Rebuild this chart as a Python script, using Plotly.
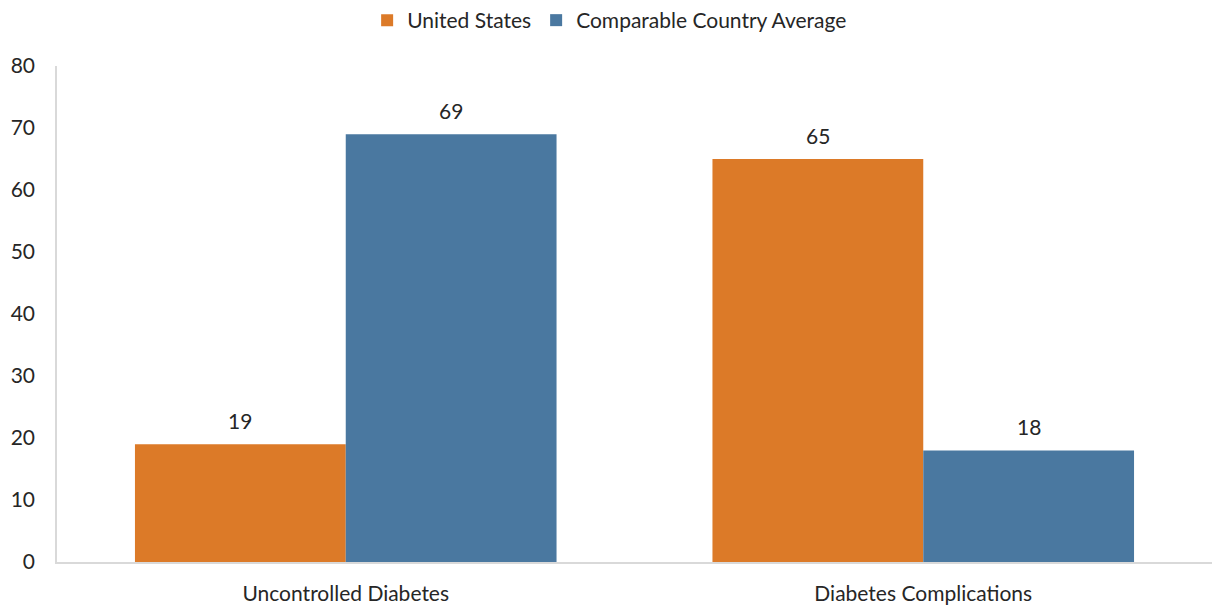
import plotly.graph_objects as go

categories = ["Uncontrolled Diabetes", "Diabetes Complications"]
us_values = [19, 65]
comp_values = [69, 18]
series_names = ["United States", "Comparable Country Average"]
y_ticks = [0, 10, 20, 30, 40, 50, 60, 70, 80]

ORANGE = "rgb(220,122,40)"
BLUE = "rgb(74,120,160)"
TEXT = "#262626"
FONT = "Lato"
FS = 21

fig = go.Figure()
fig.add_trace(go.Bar(x=categories, y=us_values, name=series_names[0],
                     marker=dict(color=ORANGE, line=dict(width=0))))
fig.add_trace(go.Bar(x=categories, y=comp_values, name=series_names[1],
                     marker=dict(color=BLUE, line=dict(width=0))))

bargap = 0.27
plot_w = 1212 - 57
half_bar_px = plot_w / len(categories) * (1 - bargap) / 4
for vals, sgn in ((us_values, -1), (comp_values, 1)):
    for c, v in zip(categories, vals):
        fig.add_annotation(x=c, y=v, text=str(v), showarrow=False,
                           xshift=sgn * half_bar_px, yshift=9, yanchor="bottom",
                           font=dict(size=FS, color=TEXT, family=FONT))

fig.update_layout(
    width=1212, height=605,
    margin=dict(l=57, r=0, t=66, b=43),
    barmode="group", bargap=bargap, bargroupgap=0,
    plot_bgcolor="white", paper_bgcolor="white",
    font=dict(family=FONT, size=FS, color=TEXT),
    legend=dict(orientation="h", x=0.503, xanchor="center", xref="container",
                y=1.0, yanchor="top", yref="container",
                font=dict(size=FS, color=TEXT), itemwidth=30,
                traceorder="normal"),
    showlegend=True,
)
fig.update_xaxes(showline=True, linecolor="#d9d9d9", linewidth=1.5, showgrid=False,
                 ticks="outside", ticklen=12, tickcolor="rgba(0,0,0,0)",
                 tickfont=dict(size=FS, color=TEXT, family=FONT))
fig.update_yaxes(range=[0, 80], tickvals=y_ticks, showline=True, linecolor="#d9d9d9",
                 linewidth=1.5, showgrid=False, zeroline=False,
                 ticks="outside", ticklen=16, tickcolor="rgba(0,0,0,0)",
                 tickfont=dict(size=FS, color=TEXT, family=FONT))

fig.write_html("out.html", config={"displayModeBar": False},
               post_script="document.body.style.margin='0';document.body.style.overflow='hidden';")
